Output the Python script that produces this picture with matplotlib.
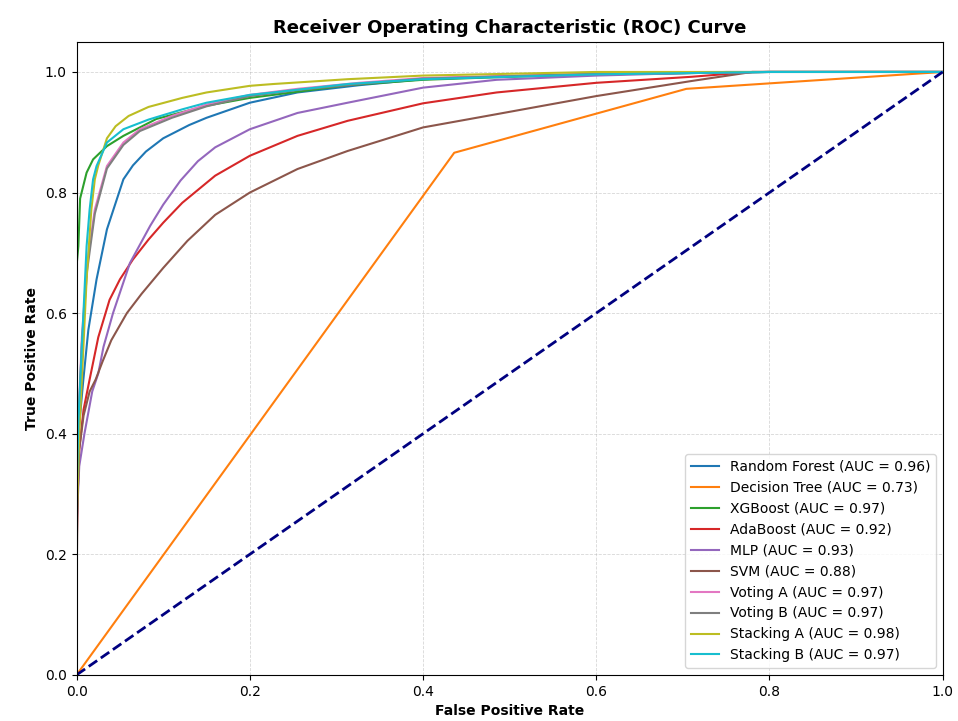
from matplotlib import pyplot as plt

# ROC points
model_names = ["Random Forest", "Decision Tree", "XGBoost", "AdaBoost", "MLP",
               "SVM", "Voting A", "Voting B", "Stacking A", "Stacking B"]
auc_values = [0.96, 0.73, 0.97, 0.92, 0.93, 0.88, 0.97, 0.97, 0.98, 0.97]

rf_fpr = [0, 0, 0.002, 0.0077, 0.0135, 0.023, 0.035, 0.054, 0.065, 0.08, 0.1, 0.13, 0.15, 0.2, 0.255, 0.326, 0.4, 0.5, 0.6, 0.8, 1.0]
rf_tpr = [0, 0.25, 0.40, 0.489, 0.572, 0.656, 0.739, 0.822, 0.845, 0.868, 0.89, 0.912, 0.924, 0.949, 0.966, 0.978, 0.988, 0.993, 0.996, 1.0, 1.0]

dt_fpr = [0, 0.436, 0.704, 1.0]
dt_tpr = [0, 0.866, 0.972, 1.0]

xgb_fpr = [0, 0, 0.002, 0.004, 0.0115, 0.019, 0.035, 0.054, 0.092, 0.15, 0.2, 0.227, 0.313, 0.4, 0.5, 0.6, 0.8, 1.0]
xgb_tpr = [0, 0.68, 0.711, 0.79, 0.833, 0.855, 0.877, 0.894, 0.922, 0.944, 0.957, 0.962, 0.978, 0.987, 0.992, 0.996, 1.0, 1.0]

ada_fpr = [0, 0, 0.001, 0.003, 0.008, 0.015, 0.025, 0.038, 0.05, 0.065, 0.083, 0.1, 0.122, 0.16, 0.2, 0.255, 0.313, 0.4, 0.485, 0.6, 0.71, 0.78, 1.0]
ada_tpr = [0, 0.2, 0.291, 0.374, 0.44, 0.49, 0.56, 0.622, 0.656, 0.689, 0.722, 0.75, 0.783, 0.828, 0.861, 0.894, 0.919, 0.948, 0.966, 0.982, 0.992, 1.0, 1.0]

mlp_fpr = [0, 0, 0.003, 0.009, 0.018, 0.025, 0.031, 0.042, 0.0615, 0.085, 0.1, 0.12, 0.14, 0.16, 0.2, 0.255, 0.313, 0.4, 0.485, 0.6, 0.75, 1.0]
mlp_tpr = [0, 0.25, 0.346, 0.40, 0.47, 0.5, 0.544, 0.6, 0.683, 0.745, 0.78, 0.82, 0.852, 0.875, 0.905, 0.932, 0.949, 0.974, 0.987, 0.994, 1.0, 1.0]

svm_fpr = [0, 0, 0.001, 0.003, 0.008, 0.015, 0.022, 0.03, 0.04, 0.058, 0.075, 0.1, 0.128, 0.16, 0.2, 0.255, 0.313, 0.4, 0.485, 0.6, 0.71, 0.78, 1.0]
svm_tpr = [0, 0.15, 0.29, 0.374, 0.43, 0.47, 0.49, 0.52, 0.555, 0.6, 0.632, 0.675, 0.72, 0.763, 0.8, 0.839, 0.869, 0.908, 0.93, 0.96, 0.985, 1.0, 1.0]

va_fpr = [0, 0, 0.002, 0.006, 0.012, 0.021, 0.035, 0.054, 0.073, 0.11, 0.15, 0.2, 0.255, 0.326, 0.4, 0.6, 0.8, 1.0]
va_tpr = [0, 0.3, 0.42, 0.56, 0.68, 0.772, 0.844, 0.883, 0.905, 0.927, 0.946, 0.962, 0.972, 0.982, 0.99, 0.997, 1.0, 1.0]

vb_fpr = [0, 0, 0.002, 0.006, 0.012, 0.021, 0.035, 0.054, 0.073, 0.11, 0.15, 0.2, 0.255, 0.326, 0.4, 0.6, 0.8, 1.0]
vb_tpr = [0, 0.3, 0.41, 0.55, 0.67, 0.765, 0.84, 0.879, 0.902, 0.924, 0.943, 0.96, 0.97, 0.98, 0.989, 0.997, 1.0, 1.0]

sa_fpr = [0, 0, 0.003, 0.006, 0.0115, 0.017, 0.021, 0.025, 0.035, 0.045, 0.06, 0.083, 0.122, 0.15, 0.2, 0.227, 0.313, 0.4, 0.6, 1.0]
sa_tpr = [0, 0.25, 0.40, 0.489, 0.656, 0.772, 0.822, 0.845, 0.89, 0.91, 0.927, 0.942, 0.957, 0.966, 0.977, 0.98, 0.988, 0.994, 1.0, 1.0]

sb_fpr = [0, 0, 0.002, 0.006, 0.0115, 0.015, 0.019, 0.023, 0.035, 0.054, 0.083, 0.122, 0.15, 0.2, 0.227, 0.313, 0.4, 0.6, 0.8, 1.0]
sb_tpr = [0, 0.3, 0.42, 0.544, 0.711, 0.772, 0.822, 0.844, 0.883, 0.905, 0.921, 0.938, 0.949, 0.962, 0.966, 0.98, 0.988, 0.996, 1.0, 1.0]

curves = [(rf_fpr, rf_tpr), (dt_fpr, dt_tpr), (xgb_fpr, xgb_tpr), (ada_fpr, ada_tpr),
          (mlp_fpr, mlp_tpr), (svm_fpr, svm_tpr), (va_fpr, va_tpr), (vb_fpr, vb_tpr),
          (sa_fpr, sa_tpr), (sb_fpr, sb_tpr)]

fig, ax = plt.subplots(figsize=(9.58, 7.21), dpi=100)
fig.subplots_adjust(left=0.080, right=0.984, bottom=0.064, top=0.942)

for name, auc, (fpr, tpr) in zip(model_names, auc_values, curves):
    ax.plot(fpr, tpr, lw=1.5, label=f"{name} (AUC = {auc:.2f})")

ax.plot([0, 1], [0, 1], color="navy", lw=2, linestyle="--")

ax.set_xlim(0, 1.0)
ax.set_ylim(0, 1.05)
ax.set_xlabel("False Positive Rate", fontweight="bold")
ax.set_ylabel("True Positive Rate", fontweight="bold")
ax.set_title("Receiver Operating Characteristic (ROC) Curve", fontweight="bold", fontsize=13)
ax.grid(True, linestyle="--", linewidth=0.6, alpha=0.5)
ax.legend(loc="lower right", fontsize=10)

fig.savefig("out.png")
